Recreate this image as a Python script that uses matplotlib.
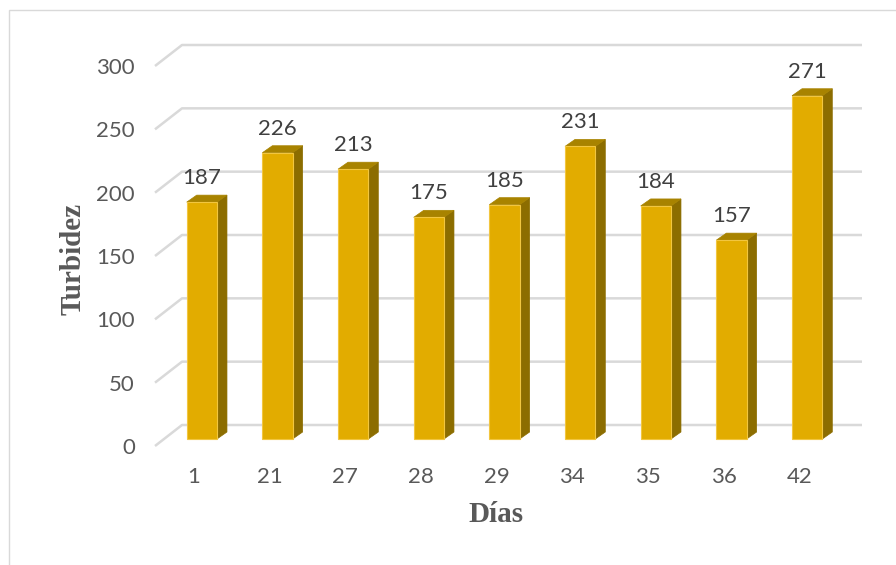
import matplotlib
matplotlib.use("Agg")
import matplotlib.pyplot as plt
from matplotlib.patches import Polygon, Rectangle

# Turbidity readings per sampling day
dias = ["1", "21", "27", "28", "29", "34", "35", "36", "42"]
turbidez = [187, 226, 213, 175, 185, 231, 184, 157, 271]
y_ticks = [0, 50, 100, 150, 200, 250, 300]

W, H = 896, 565
fig = plt.figure(figsize=(W / 100, H / 100), dpi=100)
fig.patch.set_facecolor("white")

# front plane of the pseudo-3D plot, in pixels
ax_l, ax_r, ax_b, ax_t = 164, 845, 126, 506
ax = fig.add_axes([ax_l / W, ax_b / H, (ax_r - ax_l) / W, (ax_t - ax_b) / H])
ax.set_xlim(-0.5, len(dias) - 0.5)
ax.set_ylim(0, 300)
ax.axis("off")

px_x = len(dias) / (ax_r - ax_l)
px_y = 300 / (ax_t - ax_b)


def off(x, y, dxp, dyp):
    """Shift a data point by a pixel offset."""
    return x + dxp * px_x, y + dyp * px_y


GRID = "#d9d9d9"
TXT = "#595959"
FRONT = "#E2AC00"
SIDE = "#8C6D00"
TOP = "#A88300"
EDGE = "#F2C640"
FS = 16

# back wall gridlines with slanted floor/side edges
x0, x1 = -0.5, len(dias) - 0.5
for v in y_ticks:
    fl = off(x0, v, -9, -7)
    bl = off(x0, v, 18, 14)
    br = off(x1, v, 17, 14)
    ax.plot([fl[0], bl[0], br[0]], [fl[1], bl[1], br[1]], color=GRID,
            lw=1.8, clip_on=False, zorder=1, solid_capstyle="butt")
    tx, ty = off(x0, v, -29, -9)
    ax.text(tx, ty, str(v), ha="right", va="center", fontsize=FS,
            family="Lato", color=TXT, clip_on=False)

# bars: front, side and top faces
hw = 0.2
dx, dy = 10 * px_x, 7 * px_y
for i, v in enumerate(turbidez):
    side = Polygon([(i + hw, 0), (i + hw + dx, dy), (i + hw + dx, v + dy), (i + hw, v)],
                   closed=True, facecolor=SIDE, edgecolor=SIDE, lw=0.5, zorder=3, clip_on=False)
    top = Polygon([(i - hw, v), (i + hw, v), (i + hw + dx, v + dy), (i - hw + dx, v + dy)],
                  closed=True, facecolor=TOP, edgecolor=TOP, lw=0.5, zorder=3, clip_on=False)
    front = Rectangle((i - hw, 0), 2 * hw, v, facecolor=FRONT, edgecolor=EDGE,
                      lw=0.8, zorder=4, clip_on=False)
    ax.add_patch(side)
    ax.add_patch(top)
    ax.add_patch(front)
    lx, ly = off(i, v, 0, 24)
    ax.text(lx, ly, str(v), ha="center", va="center", fontsize=FS,
            family="Lato", color="#404040", clip_on=False, zorder=5)
    cx, cy = off(i, 0, -8, -38)
    ax.text(cx, cy, dias[i], ha="center", va="center", fontsize=FS,
            family="Lato", color=TXT, clip_on=False)

# axis titles
fig.text(496 / W, 1 - 515 / H, "Días", ha="center", va="center", fontsize=21,
         family="Liberation Serif", fontweight="bold", color=TXT)
fig.text(73 / W, 1 - 259 / H, "Turbidez", ha="center", va="center", fontsize=21,
         family="Liberation Serif", fontweight="bold", color=TXT, rotation=90)

# chart area border
fig.add_artist(Rectangle((8.5 / W, -0.05), 1.0, 1 - 9.5 / H + 0.05, fill=False,
                         edgecolor=GRID, lw=1.0, transform=fig.transFigure))

fig.savefig("out.png", dpi=100, facecolor="white")
